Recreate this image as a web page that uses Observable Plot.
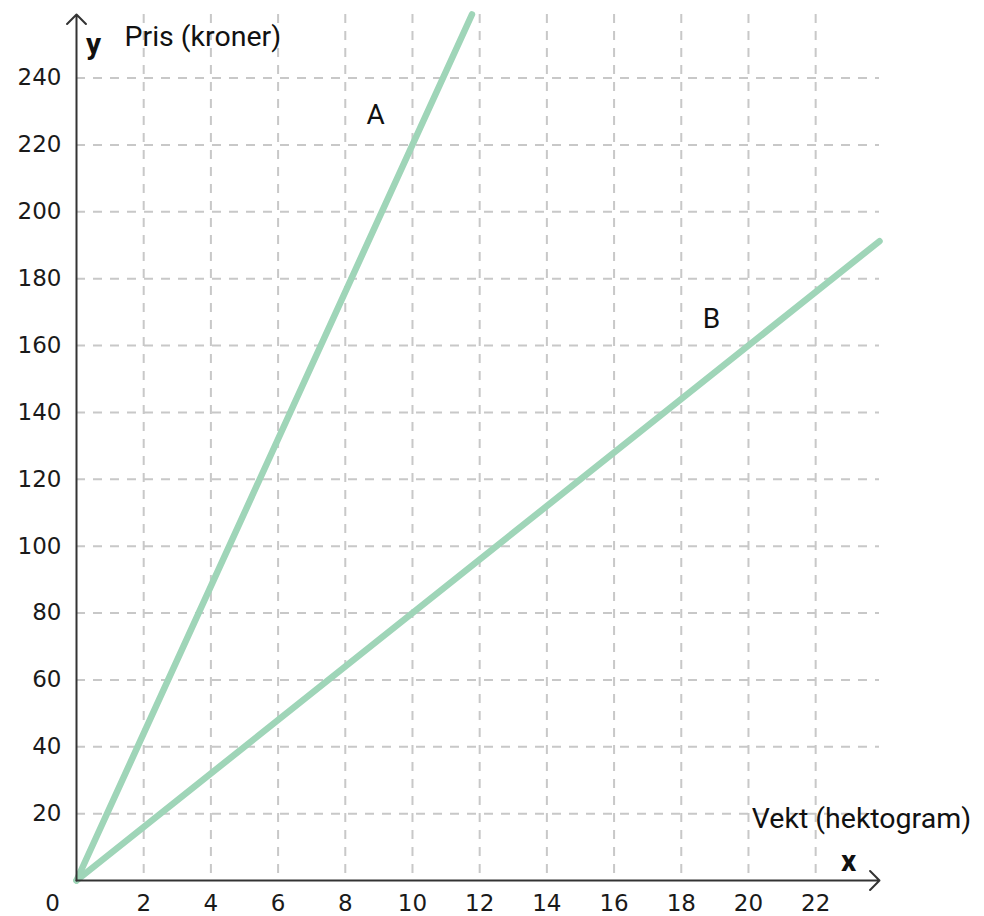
<!DOCTYPE html>
<html><head><meta charset="utf-8">
<script src="https://cdn.jsdelivr.net/npm/d3@7"></script>
<script src="https://cdn.jsdelivr.net/npm/@observablehq/plot@0.6"></script>
<style>html,body{margin:0;padding:0;background:#fff}#chart svg{display:block}</style>
</head><body><div id="chart"></div>
<script>
// Axis extents (data units)
const xMax = 23.9;
const yMax = 259;
// Tick values
const xTicks = [2, 4, 6, 8, 10, 12, 14, 16, 18, 20, 22];
const yTicks = [20, 40, 60, 80, 100, 120, 140, 160, 180, 200, 220, 240];
// Line A: weight (hg) and price (kr)
const weightA = [0, 11.77];
const priceA = [0, 259];
// Line B
const weightB = [0, 23.9];
const priceB = [0, 191.2];
// Labels
const lineLabels = ["A", "B"];
const labelX = [8.9, 18.9];
const labelY = [229, 168];

const lineA = weightA.map((w, i) => ({x: w, y: priceA[i]}));
const lineB = weightB.map((w, i) => ({x: w, y: priceB[i]}));
const labels = lineLabels.map((t, i) => ({t, x: labelX[i], y: labelY[i]}));
const axes = [{x1: 0, y1: 0, x2: xMax, y2: 0}, {x1: 0, y1: 0, x2: 0, y2: yMax}];

const green = "#9fd5b8";
const gridStyle = {stroke: "#c8c8c8", strokeOpacity: 1, strokeWidth: 2, strokeDasharray: "9,8"};
const tickFont = 23;

const chart = Plot.plot({
  width: 984, height: 916,
  marginLeft: 76, marginRight: 105, marginTop: 14, marginBottom: 36,
  x: {domain: [0, xMax]},
  y: {domain: [0, yMax]},
  style: {fontFamily: "DejaVu Sans", fontSize: tickFont + "px", color: "#1a1a1a", background: "#fff"},
  marks: [
    Plot.gridX(xTicks, gridStyle),
    Plot.gridY(yTicks, gridStyle),
    Plot.axisX(xTicks, {tickSize: 0, tickPadding: 14, label: null, fontSize: tickFont}),
    Plot.axisY(yTicks, {tickSize: 0, tickPadding: 15, label: null, fontSize: tickFont}),
    Plot.text([0], {x: 0, y: 0, text: () => "0", dx: -24, dy: 23, fontSize: tickFont, textAnchor: "middle"}),
    Plot.line(lineA, {x: "x", y: "y", stroke: green, strokeWidth: 6.5, strokeLinecap: "round"}),
    Plot.line(lineB, {x: "x", y: "y", stroke: green, strokeWidth: 6.5, strokeLinecap: "round"}),
    Plot.arrow(axes, {x1: "x1", y1: "y1", x2: "x2", y2: "y2", stroke: "#333", strokeWidth: 2, headLength: 10, headAngle: 90}),
    Plot.text(labels, {x: "x", y: "y", text: "t", fontFamily: "Roboto", fontSize: 28, fill: "#111"}),
    Plot.text(["Pris (kroner)"], {x: 0, y: yMax, text: d => d, textAnchor: "start", dx: 48, dy: 22, fontFamily: "Roboto", fontSize: 28.5, fill: "#111"}),
    Plot.text(["y"], {x: 0, y: yMax, text: d => d, textAnchor: "middle", dx: 17, dy: 30, fontFamily: "Roboto", fontWeight: "bold", fontSize: 30, fill: "#111"}),
    Plot.text(["Vekt (hektogram)"], {x: 20.1, y: 18.5, text: d => d, textAnchor: "start", fontFamily: "Roboto", fontSize: 28.5, fill: "#111"}),
    Plot.text(["x"], {x: xMax, y: 0, text: d => d, textAnchor: "middle", dx: -31, dy: -19, fontFamily: "Roboto", fontWeight: "bold", fontSize: 30, fill: "#111"})
  ]
});
document.getElementById("chart").append(chart);
</script>
</body></html>
